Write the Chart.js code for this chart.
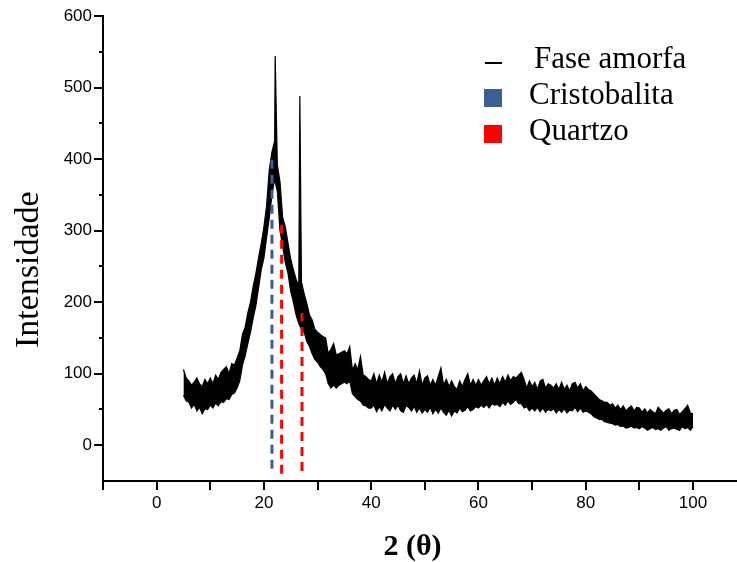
<!DOCTYPE html>
<html>
<head>
<meta charset="utf-8">
<script src="https://cdn.jsdelivr.net/npm/chart.js@4.4.1/dist/chart.umd.min.js"></script>
<style>
html, body { margin: 0; padding: 0; background: #fff; }
</style>
</head>
<body>
<canvas id="xrd" width="737" height="562"></canvas>
<script>
// difractograma: borda de cima e de baixo da faixa de ruido,
// um valor a cada 0.5 grau de 5 a 100
const angleStart = 5;
const angleStep = 0.5;
const upperBand = [
  106, 94, 90, 84, 88, 94, 86, 82, 92, 86,
  94, 86, 98, 92, 102, 106, 110, 100, 114, 112,
  122, 132, 155, 165, 185, 200, 222, 240, 262, 282,
  305, 335, 385, 410, 425, 392, 368, 318, 305, 282,
  260, 245, 232, 222, 228, 212, 198, 182, 175, 162,
  158, 155, 152, 150, 128, 134, 142, 126, 128, 130,
  132, 128, 138, 105, 114, 106, 124, 98, 96, 92,
  90, 100, 86, 98, 88, 102, 86, 96, 100, 86,
  96, 100, 86, 97, 86, 94, 98, 86, 104, 84,
  94, 97, 84, 92, 84, 96, 108, 84, 92, 82,
  90, 82, 78, 90, 82, 92, 100, 84, 92, 84,
  92, 84, 90, 96, 86, 94, 84, 94, 86, 96,
  88, 98, 90, 96, 94, 98, 102, 92, 80, 90,
  82, 88, 78, 90, 92, 80, 86, 84, 80, 86,
  78, 88, 78, 84, 76, 86, 88, 80, 86, 76,
  82, 78, 76, 72, 68, 64, 62, 60, 60, 56,
  58, 52, 56, 50, 55, 48, 52, 55, 48, 53,
  52, 46, 51, 45, 50, 47, 44, 53, 49, 45,
  49, 51, 44, 49, 50, 43, 47, 51, 56, 45,
  44
];
const lowerBand = [
  70, 62, 60, 52, 57, 48, 53, 44, 51, 50,
  56, 52, 59, 55, 61, 60, 65, 64, 71, 73,
  80, 90, 112, 125, 142, 158, 178, 195, 220, 245,
  262, 290, 318, 350, 372, 355, 300, 278, 255, 240,
  215, 200, 182, 170, 162, 158, 145, 138, 128, 120,
  116, 110, 106, 100, 86, 80, 84, 80, 84, 86,
  88, 86, 90, 72, 68, 64, 62, 56, 55, 52,
  52, 56, 47, 54, 48, 57, 52, 48, 56, 50,
  56, 48, 46, 55, 53, 48, 54, 46, 52, 45,
  50, 46, 53, 44, 50, 45, 52, 46, 42, 49,
  41, 48, 45, 52, 47, 49, 54, 48, 50, 54,
  52, 56, 53, 57, 52, 58, 56, 57, 54, 60,
  56, 62, 57, 60, 64, 58, 58, 52, 54, 48,
  52, 48, 53, 47, 52, 46, 50, 48, 51, 45,
  50, 46, 51, 45, 49, 48, 53, 47, 52, 46,
  48, 46, 44, 40, 38, 36, 36, 33, 32, 31,
  30, 28, 29, 26, 27, 24, 25, 27, 24, 25,
  23, 26, 24, 21, 23, 25, 22, 23, 21, 24,
  26, 21, 23, 24, 22, 21, 26, 23, 25, 21,
  26
];
// picos finos
const spikeAngles = [22.1, 26.7];
const spikeValues = [544, 488];

// linhas tracejadas das fases
const cristobalitaAngles = [21.5];
const cristobalitaTops = [401];
const cristobalitaBottoms = [-33];
const quartzoAngles = [23.3, 27.1];
const quartzoTops = [314, 185];
const quartzoBottoms = [-40, -36];

const xTicks = [-10, 0, 10, 20, 30, 40, 50, 60, 70, 80, 90, 100];
const yTicks = [0, 100, 200, 300, 400, 500, 600];
const yMinorTicks = [50, 150, 250, 350, 450, 550];

function toPoints(values) {
    return values.map(function(v, i) {
        return { x: angleStart + i * angleStep, y: v };
    });
}

var upperPts = toPoints(upperBand);
spikeAngles.forEach(function(a, i) {
    upperPts.push({ x: a, y: spikeValues[i] });
});
upperPts.sort(function(p, q) { return p.x - q.x; });
var lowerPts = toPoints(lowerBand);

function sticks(angles, tops, bottoms) {
    var pts = [];
    angles.forEach(function(a, i) {
        if (i) pts.push({ x: a - 0.5, y: null });
        pts.push({ x: a, y: bottoms[i] }, { x: a, y: tops[i] });
    });
    return pts;
}

var serif = '"Liberation Serif", "Times New Roman", serif';
var sans = '"Liberation Sans", Arial, sans-serif';

var minorTicks = {
    id: "minorTicks",
    afterDraw: function(chart) {
        var s = chart.scales.y, ctx = chart.ctx;
        ctx.save();
        ctx.strokeStyle = "#000";
        ctx.lineWidth = 2;
        yMinorTicks.forEach(function(v) {
            var py = Math.round(s.getPixelForValue(v));
            ctx.beginPath();
            ctx.moveTo(s.right - 4, py);
            ctx.lineTo(s.right, py);
            ctx.stroke();
        });
        ctx.restore();
    }
};

var legendBox = {
    id: "legendBox",
    afterDraw: function(chart) {
        var ctx = chart.ctx, row = 0;
        ctx.save();
        ctx.font = "31px " + serif;
        ctx.textBaseline = "middle";
        chart.data.datasets.forEach(function(ds) {
            if (!ds.legendMark) return;
            var y = 60 + row * 36;
            row++;
            ctx.fillStyle = ds.borderColor;
            if (ds.legendMark === "line") {
                ctx.fillRect(485, y + 2, 17, 2);
            } else {
                ctx.fillRect(484, y - 7, 18, 18);
            }
            ctx.fillStyle = "#000";
            ctx.fillText(ds.label, 529 + (ds.legendIndent || 0), y);
        });
        ctx.restore();
    }
};

new Chart(document.getElementById("xrd"), {
    type: "line",
    data: {
        datasets: [{
            label: "Fase amorfa",
            data: upperPts,
            borderColor: "#000",
            backgroundColor: "#000",
            borderWidth: 1.2,
            pointRadius: 0,
            tension: 0,
            fill: "+1",
            order: 4,
            legendMark: "line",
            legendIndent: 5
        }, {
            label: "Fase amorfa (base)",
            data: lowerPts,
            borderColor: "#000",
            borderWidth: 1.2,
            pointRadius: 0,
            tension: 0,
            fill: false,
            order: 5
        }, {
            label: "Cristobalita",
            data: sticks(cristobalitaAngles, cristobalitaTops, cristobalitaBottoms),
            borderColor: "#3A5F93",
            borderWidth: 3,
            borderDash: [9, 6],
            pointRadius: 0,
            spanGaps: false,
            order: 1,
            legendMark: "rect"
        }, {
            label: "Quartzo",
            data: sticks(quartzoAngles, quartzoTops, quartzoBottoms),
            borderColor: "#FF0000",
            borderWidth: 3,
            borderDash: [9, 6],
            pointRadius: 0,
            spanGaps: false,
            order: 2,
            legendMark: "rect"
        }]
    },
    options: {
        responsive: false,
        animation: false,
        devicePixelRatio: 1,
        layout: { padding: { top: 16, right: 0, bottom: 0, left: 0 } },
        plugins: {
            legend: { display: false },
            tooltip: { enabled: false }
        },
        scales: {
            x: {
                type: "linear",
                min: -10,
                max: 108.2,
                afterBuildTicks: function(s) {
                    s.ticks = xTicks.map(function(v) { return { value: v }; });
                },
                afterFit: function(s) { s.height = 81; },
                border: { display: true, color: "#000", width: 2 },
                grid: { drawOnChartArea: false, color: "#000", lineWidth: 2, tickLength: 9 },
                ticks: {
                    color: "#000",
                    font: { family: sans, size: 17 },
                    padding: 3,
                    maxRotation: 0,
                    autoSkip: false,
                    callback: function(v) { return v % 20 === 0 ? String(v) : ""; }
                },
                title: {
                    display: true,
                    text: "2 (θ)  ",
                    color: "#000",
                    font: { family: serif, size: 30, weight: "bold", lineHeight: 1 },
                    padding: { top: 0, bottom: 0 }
                }
            },
            y: {
                min: -50,
                max: 600,
                afterBuildTicks: function(s) {
                    s.ticks = yTicks.map(function(v) { return { value: v }; });
                },
                afterFit: function(s) { s.width = 103; },
                border: { display: true, color: "#000", width: 2 },
                grid: { drawOnChartArea: false, color: "#000", lineWidth: 2, tickLength: 9 },
                ticks: {
                    color: "#000",
                    font: { family: sans, size: 17 },
                    padding: 2
                },
                title: {
                    display: true,
                    text: "Intensidade     ",
                    color: "#000",
                    font: { family: serif, size: 34, lineHeight: 1 },
                    padding: { top: 12, bottom: 0 }
                }
            }
        }
    },
    plugins: [minorTicks, legendBox]
});
</script>
</body>
</html>
